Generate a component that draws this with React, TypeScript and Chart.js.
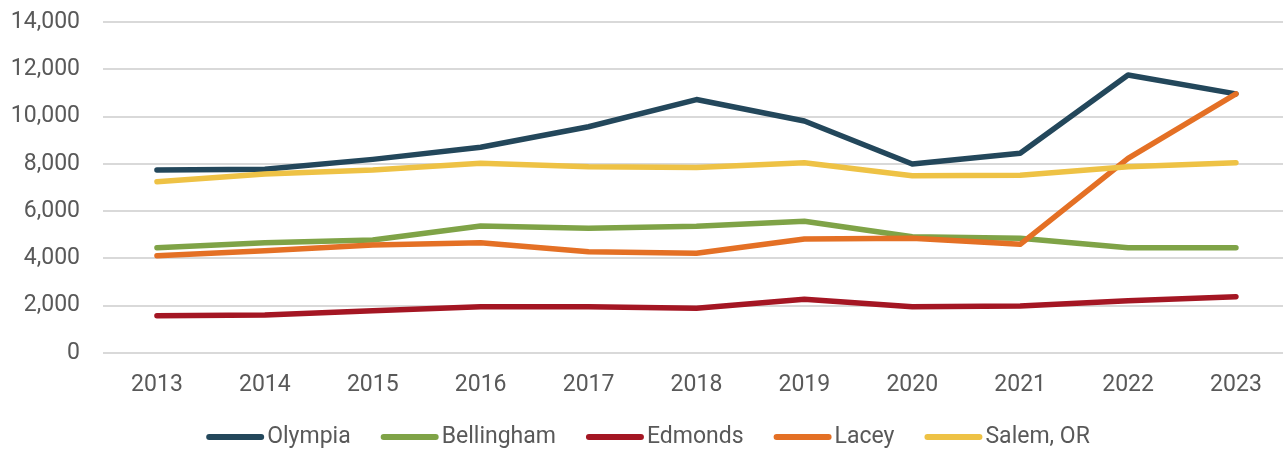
import React, { useEffect, useRef } from "react";
import { Chart, registerables } from "chart.js";

Chart.register(...registerables);

const years = [2013, 2014, 2015, 2016, 2017, 2018, 2019, 2020, 2021, 2022, 2023];
const olympia = [7740, 7770, 8190, 8700, 9570, 10720, 9810, 7995, 8450, 11760, 10960];
const bellingham = [4455, 4666, 4780, 5372, 5274, 5360, 5571, 4921, 4850, 4455, 4455];
const edmonds = [1579, 1607, 1790, 1960, 1960, 1890, 2270, 1960, 1988, 2213, 2382];
const lacey = [4117, 4328, 4569, 4666, 4286, 4215, 4822, 4850, 4596, 8236, 10956];
const salem = [7246, 7572, 7741, 8024, 7881, 7846, 8050, 7500, 7517, 7881, 8050];
const yTicks = [0, 2000, 4000, 6000, 8000, 10000, 12000, 14000];

const seriesNames = ["Olympia", "Bellingham", "Edmonds", "Lacey", "Salem, OR"];
const seriesValues = [olympia, bellingham, edmonds, lacey, salem];
const seriesColors = ["#23475B", "#7FA347", "#A41623", "#E47025", "#EEC245"];

const FONT = "Roboto";
const TEXT = "#595959";

const legendPlugin = {
  id: "customLegend",
  afterDraw(chart: any) {
    const ctx = chart.ctx as CanvasRenderingContext2D;
    ctx.save();
    ctx.font = `23px ${FONT}`;
    const lineLen = 52;
    const lw = 6;
    const gapText = 3;
    const gapItem = 30;
    const widths = seriesNames.map(
      (n) => lw / 2 + lineLen + lw / 2 + gapText + ctx.measureText(n).width
    );
    const total = widths.reduce((a, b) => a + b, 0) + gapItem * (widths.length - 1);
    let x = 648 - total / 2;
    const cy = 437;
    seriesNames.forEach((n, i) => {
      ctx.strokeStyle = seriesColors[i];
      ctx.lineWidth = lw;
      ctx.lineCap = "round";
      ctx.beginPath();
      ctx.moveTo(x + lw / 2, cy);
      ctx.lineTo(x + lw / 2 + lineLen, cy);
      ctx.stroke();
      ctx.fillStyle = TEXT;
      ctx.textBaseline = "middle";
      ctx.textAlign = "left";
      ctx.fillText(n, x + lw + lineLen + gapText, cy);
      x += widths[i] + gapItem;
    });
    ctx.restore();
  },
};

export default function App() {
  const ref = useRef<HTMLCanvasElement>(null);
  useEffect(() => {
    if (!ref.current) return;
    const chart = new Chart(ref.current, {
      type: "line",
      data: {
        datasets: seriesNames.map((name, i) => ({
          label: name,
          data: years.map((yr, j) => ({ x: yr, y: seriesValues[i][j] })),
          borderColor: seriesColors[i],
          backgroundColor: seriesColors[i],
          borderWidth: 5.5,
          borderCapStyle: "round",
          borderJoinStyle: "round",
          pointRadius: 0,
          tension: 0,
          order: seriesNames.length - i,
        })),
      },
      options: {
        animation: false,
        responsive: false,
        layout: { padding: { top: 0, right: 0, bottom: 0, left: 0 } },
        plugins: {
          legend: { display: false },
          tooltip: { enabled: false },
        },
        scales: {
          x: {
            type: "linear",
            min: 2012.5,
            max: 2023.436,
            afterBuildTicks: (scale: any) => {
              scale.ticks = years.map((v) => ({ value: v }));
            },
            afterFit: (scale: any) => {
              scale.height = 96;
              scale.paddingLeft = 0;
              scale.paddingRight = 0;
            },
            grid: { display: false, drawTicks: false },
            border: { display: false },
            ticks: {
              padding: 18,
              color: TEXT,
              font: { family: FONT, size: 23 },
              maxRotation: 0,
              autoSkip: false,
              callback: (v: any) => String(v),
            },
          },
          y: {
            min: 0,
            max: 14000,
            afterBuildTicks: (scale: any) => {
              scale.ticks = yTicks.map((v) => ({ value: v }));
            },
            afterFit: (scale: any) => {
              scale.width = 103;
              scale.paddingTop = 22;
              scale.paddingBottom = 0;
            },
            grid: { color: "#D9D9D9", lineWidth: 2, drawTicks: false },
            border: { display: false },
            ticks: {
              padding: 23,
              color: TEXT,
              font: { family: FONT, size: 23 },
              callback: (v: any) => Number(v).toLocaleString("en-US"),
            },
          },
        },
      },
      plugins: [legendPlugin],
    } as any);
    return () => chart.destroy();
  }, []);
  return (
    <div style={{ position: "fixed", left: 0, top: 0, width: 1283, height: 449, background: "#fff" }}>
      <canvas ref={ref} width={1283} height={449} style={{ display: "block" }} />
    </div>
  );
}
